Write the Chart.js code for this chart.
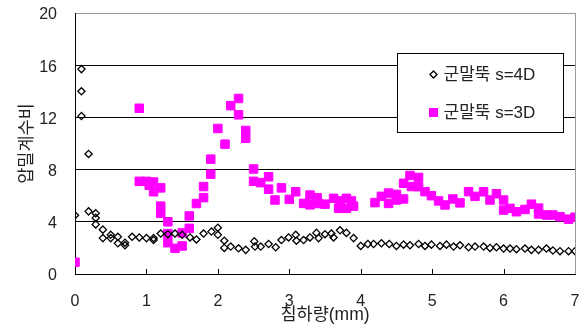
<!DOCTYPE html>
<html>
<head>
<meta charset="utf-8">
<script src="https://cdn.jsdelivr.net/npm/chart.js@4/dist/chart.umd.min.js"></script>
<style>
  html, body { margin: 0; padding: 0; background: #fff; }
  #wrap { width: 587px; height: 336px; }
</style>
</head>
<body>
<div id="wrap"><canvas id="c" width="587" height="336"></canvas></div>
<script>
// Settlement (mm) vs. consolidation coefficient ratio
const seriesNames = ['군말뚝 s=4D', '군말뚝 s=3D'];
const xTicks = [0, 1, 2, 3, 4, 5, 6, 7];
const yTicks = [0, 4, 8, 12, 16, 20];

const s4dX = [0, 0.09, 0.09, 0.09, 0.19, 0.19, 0.29, 0.29, 0.29, 0.39, 0.39, 0.5, 0.5, 0.6, 0.6, 0.7, 0.7, 0.8, 0.9, 1.0,
  1.1, 1.1, 1.2, 1.3, 1.4, 1.5, 1.61, 1.7, 1.8, 1.91, 2.0, 2.0, 2.09, 2.09, 2.18, 2.29, 2.39, 2.51, 2.52, 2.6,
  2.71, 2.81, 2.89, 2.99, 3.09, 3.1, 3.2, 3.29, 3.38, 3.41, 3.5, 3.59, 3.62, 3.71, 3.8, 3.9, 4.0, 4.1, 4.18, 4.29,
  4.4, 4.5, 4.6, 4.69, 4.81, 4.9, 4.99, 5.11, 5.2, 5.3, 5.39, 5.51, 5.6, 5.72, 5.81, 5.9, 6.0, 6.09, 6.18, 6.3,
  6.39, 6.49, 6.6, 6.69, 6.79, 6.91, 7.0];
const s4dY = [4.5, 15.7, 14.0, 12.1, 9.2, 4.8, 4.65, 4.3, 3.8, 3.4, 2.75, 3.0, 2.75, 2.85, 2.35, 2.4, 2.2, 2.85, 2.8, 2.75,
  2.75, 2.6, 3.1, 3.05, 3.1, 3.0, 2.8, 2.65, 3.1, 3.25, 3.55, 3.0, 2.55, 2.0, 2.1, 1.97, 1.85, 2.5, 2.1, 2.1,
  2.3, 2.05, 2.6, 2.8, 3.0, 2.55, 2.6, 2.8, 3.15, 2.75, 3.05, 3.1, 2.8, 3.35, 3.15, 2.75, 2.15, 2.3, 2.3, 2.35,
  2.3, 2.15, 2.25, 2.2, 2.3, 2.15, 2.25, 2.15, 2.25, 2.1, 2.2, 2.05, 2.1, 2.1, 2.0, 2.05, 1.95, 1.95, 1.9, 1.95,
  1.85, 1.85, 1.95, 1.8, 1.75, 1.75, 1.75];

const s3dX = [0, 0.9, 0.9, 1.0, 1.04, 1.1, 1.1, 1.2, 1.2, 1.2, 1.3, 1.3, 1.3, 1.4, 1.5, 1.5, 1.6, 1.6, 1.7, 1.8,
  1.8, 1.9, 1.9, 2.0, 2.1, 2.18, 2.29, 2.29, 2.39, 2.39, 2.5, 2.5, 2.6, 2.71, 2.71, 2.8, 2.89, 3.0, 3.09, 3.2,
  3.29, 3.29, 3.39, 3.41, 3.5, 3.62, 3.69, 3.71, 3.8, 3.8, 3.87, 3.9, 4.2, 4.29, 4.39, 4.39, 4.5, 4.5, 4.6, 4.6,
  4.69, 4.71, 4.81, 4.81, 4.9, 4.99, 5.09, 5.18, 5.29, 5.39, 5.51, 5.6, 5.72, 5.81, 5.9, 6.0, 6.0, 6.09, 6.18, 6.3,
  6.39, 6.49, 6.49, 6.6, 6.69, 6.79, 6.91, 7.0];
const s3dY = [0.9, 12.7, 7.1, 7.1, 6.8, 7.05, 6.3, 6.6, 5.2, 4.65, 4.0, 3.1, 2.4, 1.97, 2.15, 3.15, 3.5, 4.45, 5.4, 5.85,
  6.7, 7.65, 8.8, 11.15, 9.95, 12.9, 13.45, 12.2, 11.0, 10.4, 8.05, 7.1, 7.0, 7.45, 6.5, 5.67, 6.6, 5.72, 6.3, 5.41,
  6.05, 5.3, 5.85, 5.4, 5.35, 5.8, 5.03, 5.6, 5.8, 5.03, 5.6, 5.2, 5.47, 5.95, 6.2, 5.41, 6.1, 5.67, 6.95, 5.75,
  7.55, 6.7, 7.4, 6.69, 6.31, 6.0, 5.6, 5.29, 5.75, 5.45, 6.31, 5.95, 6.3, 5.67, 6.15, 5.67, 4.9, 5.03, 4.77, 4.95,
  5.35, 5.05, 4.6, 4.52, 4.52, 4.39, 4.2, 4.35];

const toPoints = (xs, ys) => xs.map((x, i) => ({ x: x, y: ys[i] }));

const FONT = '"Liberation Sans", "Noto Sans CJK KR", Arial, sans-serif';
const TEXT = '#222';

// small upward tick marks on the x axis, right frame line, and the boxed legend
const framePlugin = {
  id: 'frame',
  afterDraw(chart) {
    const ctx = chart.ctx;
    const a = chart.chartArea;
    const xs = chart.scales.x;
    ctx.save();
    ctx.strokeStyle = '#000';
    ctx.lineWidth = 1;
    ctx.beginPath();
    xTicks.forEach(v => {
      const px = Math.round(xs.getPixelForValue(v)) + 0.5;
      ctx.moveTo(px, a.bottom);
      ctx.lineTo(px, a.bottom - 5);
    });
    ctx.stroke();

    ctx.strokeStyle = '#999';
    ctx.beginPath();
    ctx.moveTo(Math.round(a.right) + 0.5, a.top);
    ctx.lineTo(Math.round(a.right) + 0.5, a.bottom);
    ctx.stroke();

    // legend
    const bx = Math.round(a.right) - 178 + 0.5, by = Math.round(a.top) + 40 + 0.5;
    const bw = 166, bh = 79;
    ctx.fillStyle = '#fff';
    ctx.fillRect(bx, by, bw, bh);
    ctx.strokeStyle = '#000';
    ctx.strokeRect(bx, by, bw, bh);

    ctx.font = '17px ' + FONT;
    ctx.textBaseline = 'middle';
    ctx.textAlign = 'left';
    const mx = bx + 36;
    const r1 = by + 21, r2 = by + 59;
    // diamond
    ctx.beginPath();
    ctx.moveTo(mx - 3.5, r1);
    ctx.lineTo(mx, r1 - 3.5);
    ctx.lineTo(mx + 3.5, r1);
    ctx.lineTo(mx, r1 + 3.5);
    ctx.closePath();
    ctx.lineWidth = 1.3;
    ctx.strokeStyle = '#000';
    ctx.stroke();
    // square
    ctx.fillStyle = '#ff00ff';
    ctx.fillRect(mx - 4.5, r2 - 4.5, 9, 9);

    ctx.fillStyle = TEXT;
    ctx.fillText(seriesNames[0], bx + 46, r1 + 1);
    ctx.fillText(seriesNames[1], bx + 46, r2 + 1);
    ctx.restore();
  }
};

new Chart(document.getElementById('c'), {
  type: 'scatter',
  data: {
    datasets: [
      {
        label: seriesNames[0],
        data: toPoints(s4dX, s4dY),
        pointStyle: 'rectRot',
        pointRadius: 3.6,
        borderWidth: 1.3,
        borderColor: '#000',
        backgroundColor: 'rgba(0,0,0,0)'
      },
      {
        label: seriesNames[1],
        data: toPoints(s3dX, s3dY),
        pointStyle: 'rect',
        pointRadius: 6,
        borderWidth: 1,
        borderColor: '#ff00ff',
        backgroundColor: '#ff00ff'
      }
    ]
  },
  options: {
    responsive: false,
    animation: false,
    events: [],
    layout: { padding: { top: 13, right: 12, left: 0, bottom: 0 } },
    plugins: {
      legend: { display: false },
      tooltip: { enabled: false }
    },
    scales: {
      x: {
        type: 'linear',
        min: 0,
        max: 7,
        afterBuildTicks: s => { s.ticks = xTicks.map(v => ({ value: v })); },
        afterFit: s => { s.height = 62; s.paddingLeft = 0; s.paddingRight = 0; },
        grid: { display: false, drawTicks: false },
        border: { display: true, color: '#000', width: 1 },
        ticks: { color: TEXT, padding: 18, font: { family: FONT, size: 16 } },
        title: {
          display: true,
          text: '침하량(mm)',
          color: TEXT,
          font: { family: FONT, size: 17.5 },
          padding: { top: 0, bottom: 10 }
        }
      },
      y: {
        type: 'linear',
        min: 0,
        max: 20,
        afterBuildTicks: s => { s.ticks = yTicks.map(v => ({ value: v })); },
        afterFit: s => { s.width = 75; s.paddingTop = 0; s.paddingBottom = 0; },
        grid: {
          drawTicks: false,
          color: c => (c.tick && c.tick.value === 20 ? '#999' : '#000'),
          lineWidth: 1
        },
        border: { display: true, color: '#000', width: 1 },
        ticks: { color: TEXT, padding: 18, labelOffset: 2, font: { family: FONT, size: 16 } },
        title: {
          display: true,
          text: '압밀계수비',
          color: TEXT,
          font: { family: FONT, size: 17.5 },
          padding: { top: 17, bottom: 0 }
        }
      }
    }
  },
  plugins: [framePlugin]
});
</script>
</body>
</html>
